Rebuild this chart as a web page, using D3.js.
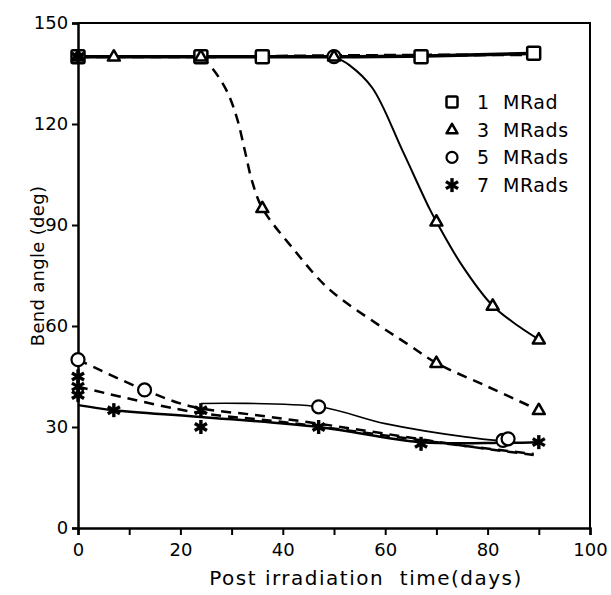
<!DOCTYPE html>
<html><head><meta charset="utf-8">
<script src="https://cdn.jsdelivr.net/npm/d3@7"></script>
<style>body{margin:0;background:#fff}</style>
</head><body>
<svg id="c" width="611" height="595"></svg>
<script>
// ---- data ----
const xTicks = [0,10,20,30,40,50,60,70,80,90,100];
const xLabels = [0,20,40,60,80,100];
const yTicks = [0,30,60,90,120,150];
const legendLabels = ["1 MRad","3 MRads","5 MRads","7 MRads"];

// markers
const squares   = [[0,140],[24,140],[36,140],[67,140],[89,141]];
const triangles = [[0,140],[7,140],[24,140],[36,95],[70,49],[90,35],[50,140],[70,91],[81,66],[90,56]];
const circles   = [[50,140],[0,50],[13,41],[47,36],[83,26],[84,26.5]];
const stars     = [[0,140],[0,45],[0,42],[0,39.5],[7,35],[24,35],[24,30],[47,30],[67,25],[90,25.5]];

// fitted curves
const topSolid   = [[0,140],[24,140],[50,140],[70,140.3],[90,141]];
const topDashed  = [[0,140],[24,140],[50,140.3],[90,140.6]];
const triDashFit = [[24,140],[26,137],[29,130],[31,122],[32.6,112],[34,103],[36,95],[42,83],[49,71],[59,60],[65,54],[70,49],[80,42],[90,35]];
const triSolidFit= [[50,140],[53,137.5],[57.5,130.7],[63.4,112],[68.6,95],[70,91],[75,78],[81,66],[86,60],[90,56]];
const circDashFit= [[0,50],[13,41],[22.4,36],[35,33.5],[47,31],[60,28],[75,24.5],[89,21.7]];
const starDashFit= [[0,42],[22.4,34.5],[40,31.5],[60,27.5],[75,24.5],[89,22]];
const circSolidFit=[[24,37],[47,36],[60,31],[76,27],[83,26],[84,26.5]];
const starSolidFit=[[0,36.5],[7,35],[24,33],[47,30],[67,25.5],[83,25.3],[90,25.5]];

// ---- drawing ----
const svg = d3.select("#c");
const x = d3.scaleLinear().domain([0,100]).range([78,590]);
const y = d3.scaleLinear().domain([0,150]).range([528,23]);
const font = "DejaVu Sans";

// frame
svg.append("path").attr("d",`M${x(0)},${y(150)}H${x(100)}V${y(0)}`)
  .attr("fill","none").attr("stroke","#000").attr("stroke-width",2);

const xAxis = svg.append("g").attr("transform",`translate(0,${y(0)})`)
  .call(d3.axisBottom(x).tickValues(xTicks).tickSize(7).tickFormat(d=>xLabels.includes(d)?d:""));
const yAxis = svg.append("g").attr("transform",`translate(${x(0)},0)`)
  .call(d3.axisLeft(y).tickValues(yTicks).tickSize(6).tickFormat(d=>d));
[xAxis,yAxis].forEach(g=>{
  g.select(".domain").attr("stroke-width",2.5);
  g.selectAll(".tick line").attr("stroke-width",2);
  g.selectAll("text").attr("font-family",font).attr("font-size",18).attr("fill","#000");
});
xAxis.selectAll("text").attr("dy","1em");
yAxis.selectAll("text").attr("dx","-0.05em");

svg.append("text").attr("x",366).attr("y",585).attr("text-anchor","middle")
  .attr("font-family",font).attr("font-size",20).attr("letter-spacing",1.5)
  .attr("xml:space","preserve").text("Post irradiation  time(days)");
svg.append("text").attr("transform","translate(44,266) rotate(-90)").attr("text-anchor","middle")
  .attr("font-family",font).attr("font-size",18).attr("letter-spacing",0.3).text("Bend angle (deg)");

const line = c => d3.line().x(d=>x(d[0])).y(d=>y(d[1])).curve(c||d3.curveMonotoneX);
const g = svg.append("g").attr("fill","none").attr("stroke","#000");
g.append("path").attr("d",line()(topSolid)).attr("stroke-width",3.5);
g.append("path").attr("d",line()(topDashed)).attr("stroke-width",3).attr("stroke-dasharray","12,6");
g.append("path").attr("d",line(d3.curveCatmullRom)(triDashFit)).attr("stroke-width",2.5).attr("stroke-dasharray","10,7");
g.append("path").attr("d",line(d3.curveCatmullRom)(triSolidFit)).attr("stroke-width",2);
g.append("path").attr("d",line(d3.curveCatmullRom)(circDashFit)).attr("stroke-width",2.5).attr("stroke-dasharray","10,7");
g.append("path").attr("d",line(d3.curveCatmullRom)(starDashFit)).attr("stroke-width",2.5).attr("stroke-dasharray","10,7");
g.append("path").attr("d",line(d3.curveCatmullRom)(circSolidFit)).attr("stroke-width",1.6);
g.append("path").attr("d",line(d3.curveCatmullRom)(starSolidFit)).attr("stroke-width",2.5);

// marker shapes
function square(sel,s){sel.append("rect").attr("x",-s/2).attr("y",-s/2).attr("width",s).attr("height",s).attr("rx",1.5)
  .attr("fill","#fff").attr("stroke","#000").attr("stroke-width",2.5);}
function tri(sel,s){const h=s*0.866;sel.append("path").attr("d",`M0,${-h*0.62}L${s/2},${h*0.38}L${-s/2},${h*0.38}Z`)
  .attr("fill","#fff").attr("stroke","#000").attr("stroke-width",2.5).attr("stroke-linejoin","round");}
function circ(sel,r){sel.append("circle").attr("r",r).attr("fill","#fff").attr("stroke","#000").attr("stroke-width",2.2);}
function star(sel,s){[0,60,120].forEach(a=>sel.append("line").attr("x1",0).attr("y1",-s/2).attr("x2",0).attr("y2",s/2)
  .attr("transform",`rotate(${a})`).attr("stroke","#000").attr("stroke-width",3.4));}

const m = svg.append("g");
const place = (data,fn,s)=>data.forEach(d=>fn(m.append("g").attr("transform",`translate(${x(d[0])},${y(d[1])})`),s));
place(circles,circ,6.5);
place(squares,square,13);
place(triangles,tri,12);
place(stars,star,14);

// legend
const lg = svg.append("g");
const legFns = [[square,11],[tri,11],[circ,5.5],[star,14]];
legendLabels.forEach((t,i)=>{
  const yy = 102 + i*27.7;
  legFns[i][0](lg.append("g").attr("transform",`translate(452,${yy})`),legFns[i][1]);
  lg.append("text").attr("x",477).attr("y",yy).attr("dy","0.36em").attr("font-family",font).attr("font-size",19)
    .attr("letter-spacing",0.6).attr("xml:space","preserve").text(t.replace(" ","  "));
});
</script>
</body></html>
